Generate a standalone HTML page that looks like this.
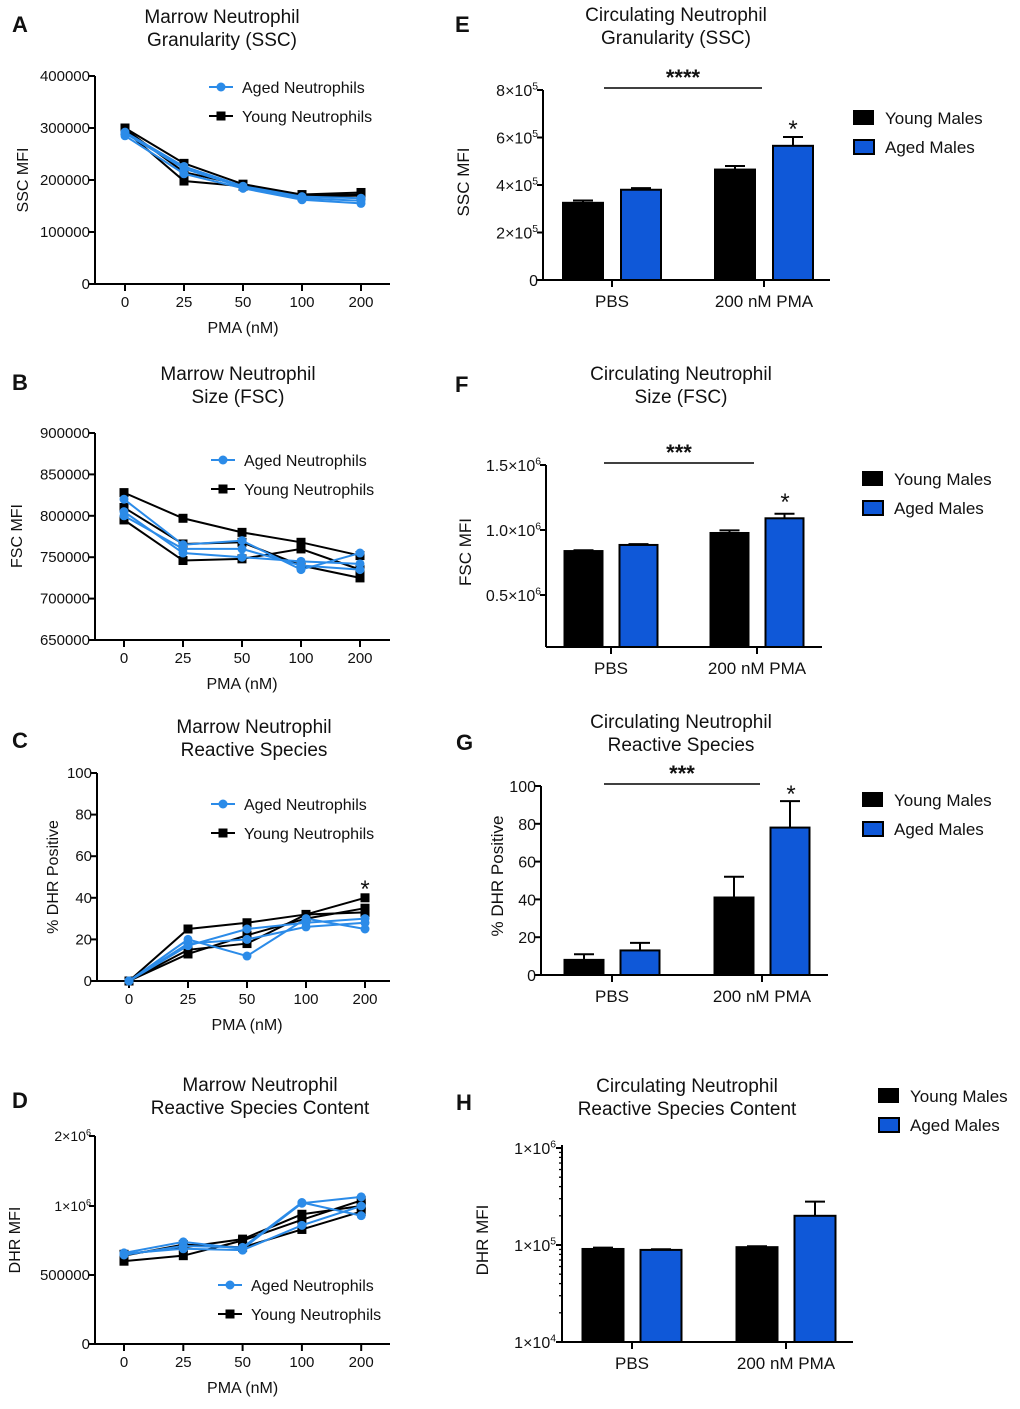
<!DOCTYPE html>
<html><head><meta charset="utf-8">
<style>
html,body{margin:0;padding:0;background:#fff;}
svg{display:block;font-family:"Liberation Sans",Arial,sans-serif;}
</style></head>
<body>
<svg id="fig" width="1020" height="1409" viewBox="0 0 1020 1409" xmlns="http://www.w3.org/2000/svg"></svg>
<script>
// ---------- DATA ----------
const pmaCategories = ["0","25","50","100","200"];
// Panel A (SSC MFI)
const aYoung1 = [300000,232000,192000,172000,176000];
const aYoung2 = [295000,198000,188000,168000,170000];
const aYoung3 = [298000,215000,190000,170000,172000];
const aAged1 = [290000,222000,186000,165000,160000];
const aAged2 = [285000,212000,184000,162000,155000];
const aAged3 = [292000,226000,188000,168000,165000];
const aTicks = [0,100000,200000,300000,400000];
// Panel B (FSC MFI)
const bYoung1 = [828000,797000,780000,768000,752000];
const bYoung2 = [795000,746000,748000,760000,735000];
const bYoung3 = [810000,766000,768000,740000,725000];
const bAged1 = [820000,765000,770000,735000,755000];
const bAged2 = [805000,755000,750000,745000,742000];
const bAged3 = [800000,760000,760000,740000,735000];
const bTicks = [650000,700000,750000,800000,850000,900000];
// Panel C (% DHR positive)
const cYoung1 = [0,25,28,32,40];
const cYoung2 = [0,13,22,30,35];
const cYoung3 = [0,15,18,32,33];
const cAged1 = [0,20,12,30,25];
const cAged2 = [0,17,25,28,30];
const cAged3 = [0,18,20,26,28];
const cTicks = [0,20,40,60,80,100];
// Panel D (DHR MFI)
const dYoung1 = [600000,640000,750000,900000,1080000];
const dYoung2 = [640000,720000,700000,830000,960000];
const dYoung3 = [650000,700000,760000,940000,1000000];
const dAged1 = [660000,740000,690000,1040000,1130000];
const dAged2 = [645000,710000,700000,1050000,930000];
const dAged3 = [655000,690000,680000,860000,1000000];
// Bar panels
const barGroups = ["PBS","200 nM PMA"];
const eYoung = [325000,465000]; const eYoungErr = [10000,15000];
const eAged = [380000,565000];  const eAgedErr = [7000,37000];
const fYoung = [838000,977000]; const fYoungErr = [6000,20000];
const fAged = [885000,1090000]; const fAgedErr = [6000,35000];
const gYoung = [8,41]; const gYoungErr = [3,11];
const gAged = [13,78]; const gAgedErr = [4,14];
const hYoung = [91000,95000]; const hYoungErr = [3000,2000];
const hAged = [89000,200000]; const hAgedErr = [1500,80000];

// ---------- HELPERS ----------
const NS="http://www.w3.org/2000/svg";
const svg=document.getElementById('fig');
function mk(tag,attrs,parent){const e=document.createElementNS(NS,tag);for(const k in attrs)e.setAttribute(k,attrs[k]);(parent||svg).appendChild(e);return e;}
function txt(x,y,s,opt,parent){opt=opt||{};const t=mk('text',{x:x,y:y,'font-size':opt.size||16,'text-anchor':opt.anchor||'middle',fill:'#111'},parent);if(opt.weight)t.setAttribute('font-weight',opt.weight);if(opt.rot)t.setAttribute('transform','rotate(-90 '+x+' '+y+')');t.textContent=s;return t;}
function sci(x,y,m,e,size,parent){const t=mk('text',{x:x,y:y,'font-size':size,'text-anchor':'end',fill:'#111'},parent);t.appendChild(document.createTextNode(m+'10'));const s=document.createElementNS(NS,'tspan');s.setAttribute('font-size',size*0.65);s.setAttribute('dy',-size*0.4);s.textContent=e;t.appendChild(s);return t;}
const BLUE='#2b8be8', BAR='#0f58d8';

function panelTitle(g,letter,lx,ly,l1,l2,cx,ty){
  const L=txt(lx,ly,letter,{size:22,weight:'bold',anchor:'start'},g);
  
  const t1=txt(cx,ty,l1,{size:19},g);
  const t2=txt(cx,ty+23,l2,{size:19},g);
}

function lineChart(p){
  const g=mk('g',{});
  
  
  panelTitle(g,p.letter,p.lx,p.ly,p.t1,p.t2,p.tcx,p.ty);
  mk('line',{x1:p.ax,y1:p.yTopAxis,x2:p.ax,y2:p.base,stroke:'#000','stroke-width':2},g);
  mk('line',{x1:p.ax,y1:p.base,x2:p.axEnd,y2:p.base,stroke:'#000','stroke-width':2},g);
  p.ticks.forEach((v,i)=>{const y=p.ys(v);mk('line',{x1:p.ax-6,y1:y,x2:p.ax,y2:y,stroke:'#000','stroke-width':2},g);
    const lab=p.tickLab?p.tickLab(v,i,y,g):txt(p.ax-5,y+5,String(v),{size:15,anchor:'end'},g);
    });
  pmaCategories.forEach((c,i)=>{const x=p.x0+i*p.step;mk('line',{x1:x,y1:p.base,x2:x,y2:p.base+7,stroke:'#000','stroke-width':2},g);
    const t=txt(x,p.base+23,c,{size:15},g);});
  const xt=txt(p.x0+2*p.step,p.base+49,'PMA (nM)',{size:16},g);
  const yt=txt(p.ylx,p.yly,p.ylabel,{size:16,rot:true},g);
  const drawS=(arr,col,sq,name)=>{
    const pts=arr.map((v,i)=>[p.x0+i*p.step,p.ys(v)]);
    const pl=mk('polyline',{points:pts.map(q=>q.join(',')).join(' '),fill:'none',stroke:col,'stroke-width':2},g);
    
    pts.forEach(q=>{ if(sq) mk('rect',{x:q[0]-4.5,y:q[1]-4.5,width:9,height:9,fill:col},g); else mk('circle',{cx:q[0],cy:q[1],r:4.5,fill:col},g);});
  };
  p.young.forEach((s,i)=>drawS(s,'#000',true,'young-series-'+(i+1)));
  p.aged.forEach((s,i)=>drawS(s,BLUE,false,'aged-series-'+(i+1)));
  const lg=mk('g',{},g);
  mk('line',{x1:p.legX,y1:p.legY,x2:p.legX+24,y2:p.legY,stroke:BLUE,'stroke-width':2},lg);
  mk('circle',{cx:p.legX+12,cy:p.legY,r:4.5,fill:BLUE},lg);
  txt(p.legX+33,p.legY+6,'Aged Neutrophils',{size:16,anchor:'start'},lg);
  mk('line',{x1:p.legX,y1:p.legY+29,x2:p.legX+24,y2:p.legY+29,stroke:'#000','stroke-width':2},lg);
  mk('rect',{x:p.legX+7.5,y:p.legY+24.5,width:9,height:9,fill:'#000'},lg);
  txt(p.legX+33,p.legY+35,'Young Neutrophils',{size:16,anchor:'start'},lg);
  if(p.star){const s=txt(p.star[0],p.star[1],'*',{size:24},g);}
}

function barChart(p){
  const g=mk('g',{});
  
  
  panelTitle(g,p.letter,p.lx,p.ly,p.t1,p.t2,p.tcx,p.ty);
  mk('line',{x1:p.ax,y1:p.yTopAxis,x2:p.ax,y2:p.base,stroke:'#000','stroke-width':2},g);
  mk('line',{x1:p.ax,y1:p.base,x2:p.axEnd,y2:p.base,stroke:'#000','stroke-width':2},g);
  p.ticks.forEach((v,i)=>{const y=p.ys(v);mk('line',{x1:p.ax-6,y1:y,x2:p.ax,y2:y,stroke:'#000','stroke-width':2},g);
    const lab=p.tickLab(v,i,y,g);});
  if(p.minor)p.minor.forEach(v=>{const y=p.ys(v);mk('line',{x1:p.ax-3,y1:y,x2:p.ax,y2:y,stroke:'#000','stroke-width':1.3},g);});
  barGroups.forEach((c,i)=>{const cx=p.g0+i*p.gStep;
    mk('line',{x1:cx,y1:p.base,x2:cx,y2:p.base+7,stroke:'#000','stroke-width':2},g);
    const t=txt(cx,p.base+27,c,{size:17},g);
    const draw=(v,e,col,dx,name)=>{const x=cx+dx,yv=p.ys(v),ye=p.ys(v+e);
      mk('line',{x1:x+p.bw/2,y1:yv,x2:x+p.bw/2,y2:ye,stroke:'#000','stroke-width':2},g);
      mk('line',{x1:x+p.bw/2-10,y1:ye,x2:x+p.bw/2+10,y2:ye,stroke:'#000','stroke-width':2},g);
      const r=mk('rect',{x:x,y:yv,width:p.bw,height:p.base-yv,fill:col,stroke:'#000','stroke-width':2},g);
      };
    draw(p.young[i],p.youngErr[i],'#000',-p.bw-p.gap/2-p.off,'bar-young-'+c.replace(/ /g,'-').toLowerCase());
    draw(p.aged[i],p.agedErr[i],BAR,p.gap/2-p.off,'bar-aged-'+c.replace(/ /g,'-').toLowerCase());
  });
  const yt=txt(p.ylx,p.yly,p.ylabel,{size:17,rot:true},g);
  if(p.sig){mk('line',{x1:p.sig[0],y1:p.sig[2],x2:p.sig[1],y2:p.sig[2],stroke:'#000','stroke-width':1.5},g);
    const s=txt((p.sig[0]+p.sig[1])/2,p.sig[2]-3,p.sig[3],{size:22,weight:'bold'},g);}
  if(p.star){const s=txt(p.star[0],p.star[1],'*',{size:24},g);}
  const lg=mk('g',{},g);
  mk('rect',{x:p.legX,y:p.legY,width:21,height:15,fill:'#000'},lg);
  txt(p.legX+32,p.legY+14,'Young Males',{size:17,anchor:'start'},lg);
  mk('rect',{x:p.legX+1,y:p.legY+30,width:20,height:14,fill:BAR,stroke:'#000','stroke-width':2},lg);
  txt(p.legX+32,p.legY+43,'Aged Males',{size:17,anchor:'start'},lg);
}

// ---------- PANELS ----------
lineChart({name:'panel-a-ssc-chart',letter:'A',lx:12,ly:32,t1:'Marrow Neutrophil',t2:'Granularity (SSC)',tcx:222,ty:23,
  ax:95,axEnd:390,base:284,yTopAxis:76,x0:125,step:59,ys:v=>284-v*208/400000,ticks:aTicks,
  ylx:28,yly:180,ylabel:'SSC MFI',young:[aYoung1,aYoung2,aYoung3],aged:[aAged1,aAged2,aAged3],legX:209,legY:87});
lineChart({name:'panel-b-fsc-chart',letter:'B',lx:12,ly:390,t1:'Marrow Neutrophil',t2:'Size (FSC)',tcx:238,ty:380,
  ax:95,axEnd:390,base:640,yTopAxis:433,x0:124,step:59,ys:v=>640-(v-650000)*207/250000,ticks:bTicks,
  ylx:22,yly:536,ylabel:'FSC MFI',young:[bYoung1,bYoung2,bYoung3],aged:[bAged1,bAged2,bAged3],legX:211,legY:460});
lineChart({name:'panel-c-dhr-percent-chart',letter:'C',lx:12,ly:748,t1:'Marrow Neutrophil',t2:'Reactive Species',tcx:254,ty:733,
  ax:97,axEnd:390,base:981,yTopAxis:773,x0:129,step:59,ys:v=>981-v*2.08,ticks:cTicks,
  ylx:58,yly:877,ylabel:'% DHR Positive',young:[cYoung1,cYoung2,cYoung3],aged:[cAged1,cAged2,cAged3],legX:211,legY:804,star:[365,897]});
const dTickVals=[0,500000,1000000,2000000];
lineChart({name:'panel-d-dhr-mfi-chart',letter:'D',lx:12,ly:1108,t1:'Marrow Neutrophil',t2:'Reactive Species Content',tcx:260,ty:1091,
  ax:95,axEnd:390,base:1344,yTopAxis:1136,x0:124,step:59.3,
  ys:v=>v<=1000000?1344-v*138/1000000:1206-(v-1000000)*70/1000000,ticks:dTickVals,
  tickLab:(v,i,y,g)=>{ if(v===1000000)return sci(91,y+5,'1×','6',14,g); if(v===2000000)return sci(91,y+5,'2×','6',14,g); return txt(90,y+5,String(v),{size:15,anchor:'end'},g);},
  ylx:20,yly:1240,ylabel:'DHR MFI',young:[dYoung1,dYoung2,dYoung3],aged:[dAged1,dAged2,dAged3],legX:218,legY:1285});

barChart({name:'panel-e-ssc-bar-chart',letter:'E',lx:455,ly:32,t1:'Circulating Neutrophil',t2:'Granularity (SSC)',tcx:676,ty:21,
  ax:543,axEnd:830,base:280,yTopAxis:90,ys:v=>280-v*190/800000,ticks:[0,200000,400000,600000,800000],
  tickLab:(v,i,y,g)=>v===0?txt(538,y+6,'0',{size:16,anchor:'end'},g):sci(538,y+6,(v/100000)+'×','5',16,g),
  g0:612,gStep:152,bw:40,gap:18,off:0,young:eYoung,youngErr:eYoungErr,aged:eAged,agedErr:eAgedErr,
  ylx:469,yly:182,ylabel:'SSC MFI',sig:[604,762,88,'****'],star:[793,137],legX:853,legY:110});
barChart({name:'panel-f-fsc-bar-chart',letter:'F',lx:455,ly:392,t1:'Circulating Neutrophil',t2:'Size (FSC)',tcx:681,ty:380,
  ax:546,axEnd:822,base:647,yTopAxis:465,ys:v=>660-v*130/1000000,ticks:[500000,1000000,1500000],
  tickLab:(v,i,y,g)=>sci(541,y+6,(v/1000000).toFixed(1)+'×','6',16,g),
  g0:611,gStep:146,bw:38,gap:17,off:0,young:fYoung,youngErr:fYoungErr,aged:fAged,agedErr:fAgedErr,
  ylx:471,yly:552,ylabel:'FSC MFI',sig:[604,754,463,'***'],star:[785,510],legX:862,legY:471});
barChart({name:'panel-g-dhr-percent-bar-chart',letter:'G',lx:456,ly:750,t1:'Circulating Neutrophil',t2:'Reactive Species',tcx:681,ty:728,
  ax:541,axEnd:828,base:975,yTopAxis:786,ys:v=>975-v*1.89,ticks:[0,20,40,60,80,100],
  tickLab:(v,i,y,g)=>txt(536,y+6,String(v),{size:16,anchor:'end'},g),
  g0:612,gStep:150,bw:39,gap:17,off:0,young:gYoung,youngErr:gYoungErr,aged:gAged,agedErr:gAgedErr,
  ylx:503,yly:876,ylabel:'% DHR Positive',sig:[604,760,784,'***'],star:[791,802],legX:862,legY:792});
const hMinor=[];for(let d=1e4;d<1e6;d*=10)for(let k=2;k<10;k++)hMinor.push(d*k);
barChart({name:'panel-h-dhr-mfi-bar-chart',letter:'H',lx:456,ly:1110,t1:'Circulating Neutrophil',t2:'Reactive Species Content',tcx:687,ty:1092,
  ax:562,axEnd:853,base:1342,yTopAxis:1145,ys:v=>1342-(Math.log10(v)-4)*97,ticks:[10000,100000,1000000],minor:hMinor,
  tickLab:(v,i,y,g)=>sci(556,y+6,'1×',String(Math.round(Math.log10(v))),16,g),
  g0:632,gStep:154,bw:41,gap:17,off:0,young:hYoung,youngErr:hYoungErr,aged:hAged,agedErr:hAgedErr,
  ylx:488,yly:1240,ylabel:'DHR MFI',legX:878,legY:1088});
</script>
</body></html>
